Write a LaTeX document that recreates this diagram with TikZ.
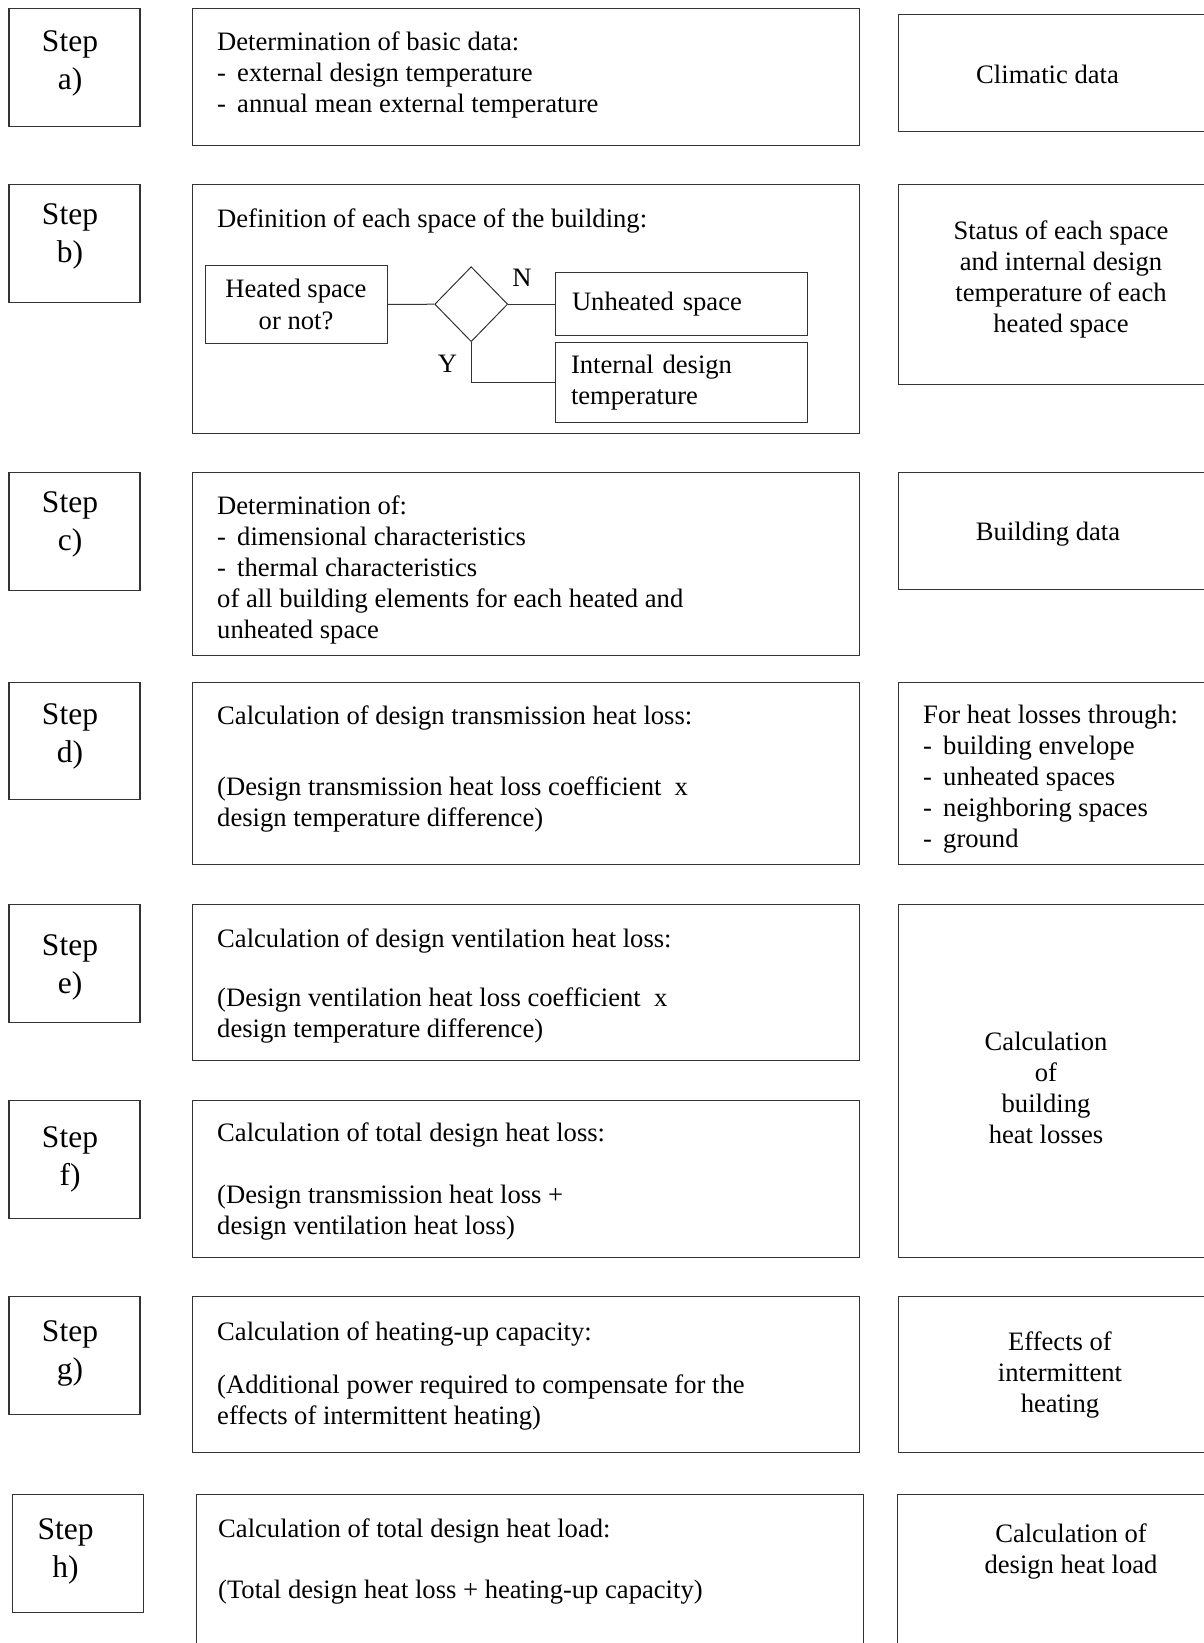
\documentclass[tikz,border=0pt]{standalone}
\usepackage{fontspec}
\setmainfont{Liberation Serif}
\usetikzlibrary{positioning,shapes.geometric}

\newcommand{\itm}{-\hspace{0.42em}}

\begin{document}
\begin{tikzpicture}[x=1pt, y=-1pt,
    box/.style={rectangle, draw=black!80, line width=1.1pt, inner sep=0pt, anchor=north west},
    stepbox/.style={box, minimum width=131pt, minimum height=117.5pt},
    mainbox/.style={box, minimum width=666.7pt},
    notebox/.style={box, minimum width=340pt},
    steptxt/.style={anchor=north, inner sep=0pt, align=center, font=\fontsize{31.5}{38}\selectfont},
    maintxt/.style={anchor=north west, inner sep=0pt, align=left, font=\fontsize{26.6}{31}\selectfont},
    notetxt/.style={anchor=north, inner sep=0pt, align=center, font=\fontsize{26.6}{31}\selectfont},
    sub/.style={rectangle, draw=black!80, line width=1pt, inner sep=0pt, font=\fontsize{26.6}{31.5}\selectfont},
    link/.style={draw=black!80, line width=1pt}]
  \useasboundingbox (0,0) rectangle (1204,1643);
  \clip (0,0) rectangle (1204,1643);

  % step column
  \node[stepbox] (sa) at (8.4,8.4) {};
  \node[stepbox] (sb) at (8.4,184.3) {};
  \node[stepbox] (sc) at (8.4,472.3) {};
  \node[stepbox] (sd) at (8.4,681.7) {};
  \node[stepbox] (se) at (8.4,904) {};
  \node[stepbox] (sf) at (8.4,1100) {};
  \node[stepbox] (sg) at (8.4,1296) {};
  \node[stepbox] (sh) at (11.5,1494.3) {};
  \node[steptxt] (ta) at (70,30.3) {Step\\a)};
  \node[steptxt] (tb) at (70,203.6) {Step\\b)};
  \node[steptxt] (tc) at (70,491.9) {Step\\c)};
  \node[steptxt] (td) at (70,703.6) {Step\\d)};
  \node[steptxt] (te) at (70,934.6) {Step\\e)};
  \node[steptxt] (tf) at (70,1126.9) {Step\\f)};
  \node[steptxt] (tg) at (70,1320.3) {Step\\g)};
  \node[steptxt] (th) at (65.5,1518.6) {Step\\h)};

  % main column
  \node[mainbox, minimum height=136.2pt] (ma) at (191.8,8.4) {};
  \node[mainbox, minimum height=248.4pt] (mb) at (191.8,184.3) {};
  \node[mainbox, minimum height=182.4pt] (mc) at (191.8,472.3) {};
  \node[mainbox, minimum height=182.3pt] (md) at (191.8,681.7) {};
  \node[mainbox, minimum height=156pt] (me) at (191.8,904) {};
  \node[mainbox, minimum height=157pt] (mf) at (191.8,1100) {};
  \node[mainbox, minimum height=156pt] (mg) at (191.8,1296) {};
  \node[mainbox, minimum height=200pt] (mh) at (195.9,1494.3) {};
  \node[maintxt] (da) at (217,31.6) {Determination of basic data:\\\itm external design temperature\\\itm annual mean external temperature};
  \node[maintxt] (db) at (217,208.3) {Definition of each space of the building:};
  \node[maintxt] (dc) at (217,495.6) {Determination of:\\\itm dimensional characteristics\\\itm thermal characteristics\\of all building elements for each heated and\\unheated space};
  \node[maintxt] (dd) at (217,705.6) {Calculation of design transmission heat loss:\\[40pt](Design transmission heat loss coefficient~ x\\design temperature difference)};
  \node[maintxt] (de) at (217,928.3) {Calculation of design ventilation heat loss:\\[28.3pt](Design ventilation heat loss coefficient~ x\\design temperature difference)};
  \node[maintxt] (df) at (217,1122.6) {Calculation of total design heat loss:\\[30.7pt](Design transmission heat loss +\\design ventilation heat loss)};
  \node[maintxt] (dg) at (217,1321.6) {Calculation of heating-up capacity:\\[22.3pt](Additional power required to compensate for the\\effects of intermittent heating)};
  \node[maintxt] (dh) at (218,1518.3) {Calculation of total design heat load:\\[30.6pt](Total design heat loss + heating-up capacity)};

  % decision inside step b
  \node[sub, minimum width=182pt, minimum height=77.6pt, align=center] (heated) at (296,304.5) {Heated space\\or not?};
  \node[diamond, draw=black!80, line width=1pt, minimum width=73pt, minimum height=75pt, inner sep=0pt] (dec) at (471.2,304.2) {};
  \node[sub, anchor=north west, minimum height=63.6pt, text width=218pt, inner xsep=17pt, align=left] (unheated) at (554.5,271.7) {Unheated space};
  \node[sub, anchor=north west, minimum height=80.6pt, text width=220pt, inner xsep=16pt, align=left] (internal) at (554.5,341.7) {Internal design\\temperature};
  \node[font=\fontsize{26.6}{31}\selectfont, inner sep=0pt] (lN) at (522,278) {N};
  \node[font=\fontsize{26.6}{31}\selectfont, inner sep=0pt] (lY) at (447.5,364) {Y};
  \draw[link] (heated.east) -- (dec.west);
  \draw[link] (dec.east) -- (dec.east -| unheated.west);
  \draw[link] (dec.south) |- (internal.west);

  % note column
  \node[notebox, minimum height=116.7pt] (ra) at (898,14.3) {};
  \node[notebox, minimum height=200pt] (rb) at (898,184.3) {};
  \node[notebox, minimum height=117pt] (rc) at (898,472.3) {};
  \node[notebox, minimum height=182.3pt] (rd) at (898,681.7) {};
  \node[notebox, minimum height=353pt] (re) at (898,904) {};
  \node[notebox, minimum height=156pt] (rg) at (898,1296) {};
  \node[notebox, minimum height=200pt] (rh) at (897,1494.3) {};
  \node[notetxt] (ca) at (1047.5,64.6) {Climatic data};
  \node[notetxt] (cb) at (1061,220.9) {Status of each space\\and internal design\\temperature of each\\heated space};
  \node[notetxt] (cc) at (1048,521.6) {Building data};
  \node[maintxt] (cd) at (923,704.9) {For heat losses through:\\\itm building envelope\\\itm unheated spaces\\\itm neighboring spaces\\\itm ground};
  \node[notetxt] (ce) at (1046,1031.6) {Calculation\\of\\building\\heat losses};
  \node[notetxt] (cg) at (1060,1331.6) {Effects of\\intermittent\\heating};
  \node[notetxt] (ch) at (1071,1523.3) {Calculation of\\design heat load};
\end{tikzpicture}
\end{document}
